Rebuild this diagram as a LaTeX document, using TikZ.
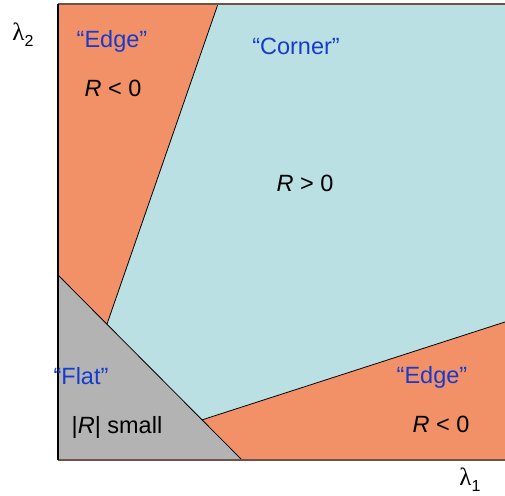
\documentclass[tikz,border=0pt]{standalone}
\usepackage{fontspec}
\setmainfont{Liberation Sans}
\newfontfamily\lamfont{Liberation Serif}
\usetikzlibrary{calc}
\definecolor{edgeorange}{RGB}{242,144,104}
\definecolor{cornercyan}{RGB}{186,224,227}
\definecolor{flatgray}{RGB}{179,179,179}
\definecolor{labelblue}{RGB}{22,60,205}
\definecolor{axisbrown}{RGB}{112,82,72}

\begin{document}
\begin{tikzpicture}[x=1pt,y=1pt,
  border/.style={black,line width=0.8pt},
  frame/.style={axisbrown,line width=2pt},
  regionlabel/.style={anchor=base,text=labelblue,inner sep=0pt,font=\fontsize{23.5}{27}\selectfont},
  valuelabel/.style={anchor=base,inner sep=0pt,font=\fontsize{23.5}{27}\selectfont},
  axislabel/.style={inner sep=0pt,font=\fontsize{25}{28}\lamfont}]
\useasboundingbox (0,0) rectangle (505,495);
% plot area
\coordinate (bl) at (58,35);
\coordinate (br) at (505,35);
\coordinate (tr) at (505,491);
\coordinate (tl) at (58,491);
% region corners
\coordinate (flattop) at (58,220);
\coordinate (flatright) at (242,35);
\coordinate (cornertop) at (218,491);
\coordinate (cornerleft) at ($(flattop)!0.266!(flatright)$);
\coordinate (cornerlow) at ($(flattop)!0.783!(flatright)$);
\coordinate (cornerright) at (505,173);

\fill[edgeorange] (tl) -- (cornertop) -- (cornerleft) -- (flattop) -- cycle;
\fill[edgeorange] (cornerlow) -- (cornerright) -- (br) -- (flatright) -- cycle;
\fill[cornercyan] (cornertop) -- (tr) -- (cornerright) -- (cornerlow) -- (cornerleft) -- cycle;
\fill[flatgray] (flattop) -- (flatright) -- (bl) -- cycle;

\draw[border] (cornertop) -- (cornerleft);
\draw[border] (flattop) -- (flatright);
\draw[border] (cornerlow) -- (cornerright);

\draw[frame] (tl) -- (tr);
\draw[frame] (bl) -- (br);
\draw[border,line width=1.2pt] (bl) -- (tl);

\node[axislabel] (lamtwo) at (23,460) {λ\raisebox{-6pt}{\fontsize{16}{16}\selectfont\rmfamily 2}};
\node[axislabel] (lamone) at (470,15) {λ\raisebox{-6pt}{\fontsize{16}{16}\selectfont\rmfamily 1}};

\node[regionlabel] (edgeup) at (112,447) {“Edge”};
\node[valuelabel] (valup) at (113,398) {\textit{R} < 0};
\node[regionlabel] (corner) at (296,440) {“Corner”};
\node[valuelabel] (valcorner) at (305,303) {\textit{R} > 0};
\node[regionlabel] (flat) at (81,111) {“Flat”};
\node[valuelabel] (valflat) at (117,62) {|\textit{R}| small};
\node[regionlabel] (edgelow) at (432,112) {“Edge”};
\node[valuelabel] (vallow) at (441,63) {\textit{R} < 0};
\end{tikzpicture}
\end{document}
